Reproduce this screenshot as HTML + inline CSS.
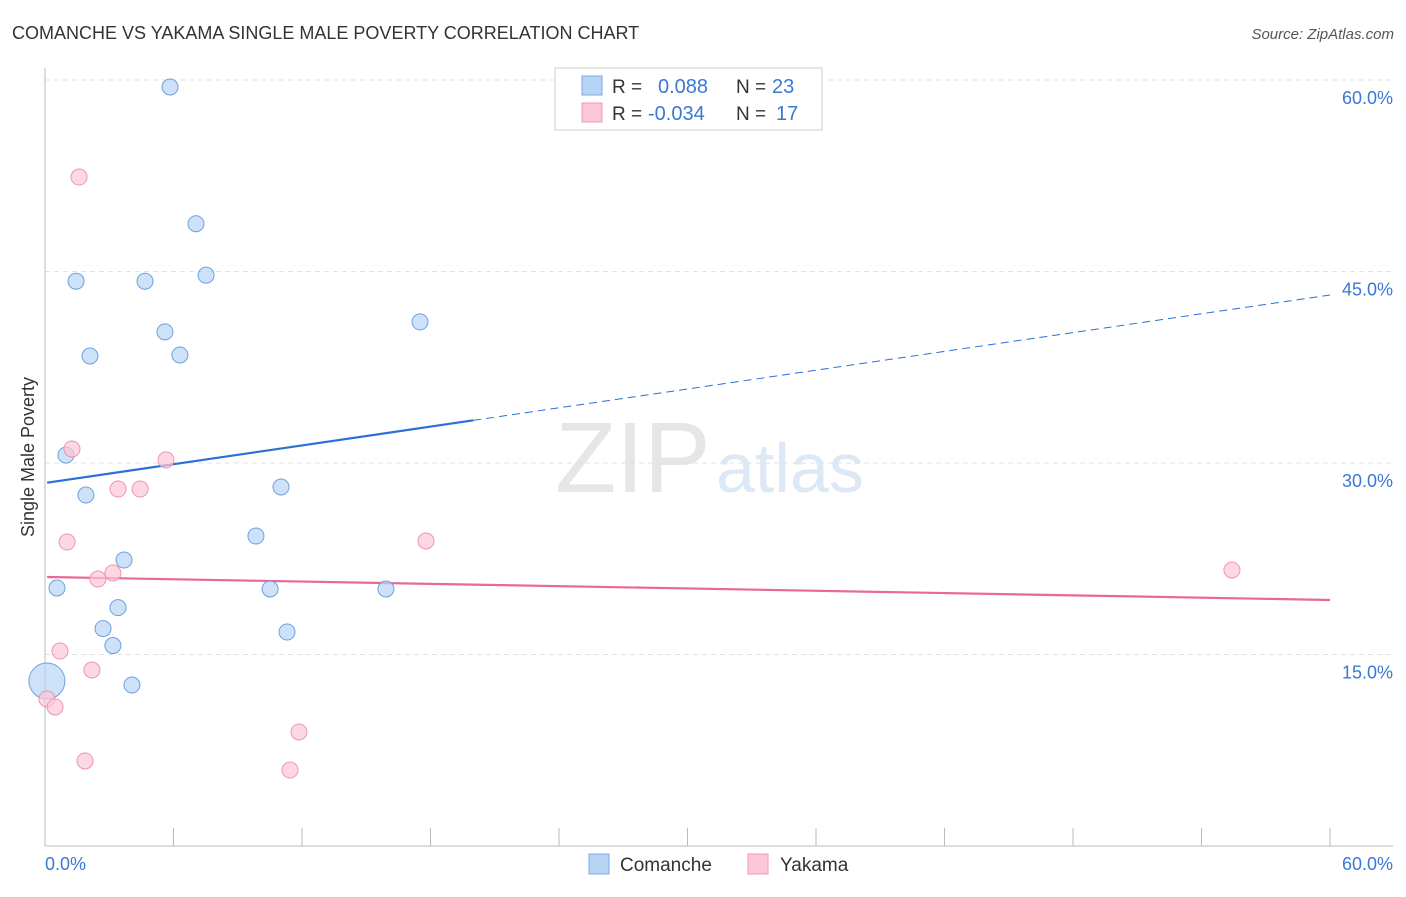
<!DOCTYPE html>
<html><head><meta charset="utf-8"><style>
body{margin:0;background:#fff;font-family:"Liberation Sans",sans-serif;}
svg text{font-family:"Liberation Sans",sans-serif;}
</style></head><body>
<svg id="chart" width="1406" height="892">
<text x="12" y="39" font-size="18" fill="#333">COMANCHE VS YAKAMA SINGLE MALE POVERTY CORRELATION CHART</text>
<text x="1394" y="39" font-size="15" fill="#555" font-style="italic" text-anchor="end">Source: ZipAtlas.com</text>
<text x="555" y="492" font-size="100" fill="#e6e6e6" font-family="Liberation Serif">ZIP</text>
<text x="716" y="492" font-size="70" fill="#dce8f6">atlas</text>
<text transform="translate(34,457) rotate(-90)" font-size="18" fill="#333" text-anchor="middle">Single Male Poverty</text>
<g id="grid"></g><g id="marks"></g>
<g>
<rect x="555" y="68" width="267" height="62" fill="#fff" stroke="#ccc"/>
<rect x="582" y="76" width="20" height="19" fill="#b8d4f5" stroke="#7aaae6"/>
<rect x="582" y="103" width="20" height="19" fill="#fcc8d7" stroke="#f09ab4"/>
<text x="612" y="93" font-size="19" fill="#333">R = </text><text x="658" y="93" font-size="20" fill="#3a78d4">0.088</text>
<text x="736" y="93" font-size="19" fill="#333">N = </text><text x="772" y="93" font-size="20" fill="#3a78d4">23</text>
<text x="612" y="120" font-size="19" fill="#333">R = </text><text x="648" y="120" font-size="20" fill="#3a78d4">-0.034</text>
<text x="736" y="120" font-size="19" fill="#333">N = </text><text x="776" y="120" font-size="20" fill="#3a78d4">17</text>
</g>
<g>
<rect x="589" y="854" width="20" height="20" fill="#b8d4f5" stroke="#7aaae6"/>
<text x="620" y="871" font-size="19" fill="#333">Comanche</text>
<rect x="748" y="854" width="20" height="20" fill="#fcc8d7" stroke="#f09ab4"/>
<text x="780" y="871" font-size="19" fill="#333">Yakama</text>
</g>
</svg>
<script>
const comancheX=[5.84,7.05,1.45,4.67,7.52,5.60,2.10,6.30,17.51,0.98,1.91,11.02,9.85,3.69,0.56,10.51,15.92,3.41,2.71,3.17,11.30,4.06,0.09];
const comancheY=[59.45,48.74,44.24,44.24,44.71,40.27,38.38,38.46,41.05,30.62,27.49,28.12,24.28,22.40,20.21,20.13,20.13,18.67,17.03,15.70,16.76,12.61,12.92];
const yakamaX=[1.59,1.26,5.65,3.41,4.44,1.03,17.79,2.47,3.17,55.42,0.70,2.19,0.09,0.47,1.87,11.86,11.44];
const yakamaY=[52.40,31.10,30.24,27.96,27.96,23.81,23.89,20.91,21.38,21.62,15.27,13.79,11.51,10.89,6.66,8.93,5.95];
const yTicks=[15,30,45,60];
const xTickLabels=["0.0%","60.0%"];
const comancheTrend=[28.43,43.16];
const yakamaTrend=[21.07,19.27];
const NS="http://www.w3.org/2000/svg";
const sx=v=>45+v*21.417, sy=v=>846-v*12.767;
function mk(p,t,a){const e=document.createElementNS(NS,t);for(const k in a)e.setAttribute(k,a[k]);p.appendChild(e);return e;}
const grid=document.getElementById('grid'),marks=document.getElementById('marks');
yTicks.forEach(t=>{const l=mk(grid,'line',{x1:45,x2:1393,y1:sy(t),y2:sy(t),stroke:'#e2e2e2','stroke-dasharray':'5,4'});


const tx=mk(grid,'text',{x:1393,y:sy(t)+24,'font-size':18,fill:'#3a78d4','text-anchor':'end'});tx.textContent=t.toFixed(1)+'%';

});
const ya=mk(grid,'line',{x1:45,x2:45,y1:68,y2:846,stroke:'#bbb'});


const xa=mk(grid,'line',{x1:45,x2:1393,y1:846,y2:846,stroke:'#bbb'});


for(let i=0;i<=10;i++){const t=mk(grid,'line',{x1:sx(i*6),x2:sx(i*6),y1:828,y2:846,stroke:'#bbb'});

}
[[0,'start'],[60,'end']].forEach((d,i)=>{const t=mk(grid,'text',{x:i?1393:45,y:870,'font-size':18,fill:'#3a78d4','text-anchor':d[1]});t.textContent=xTickLabels[i];

});
const cy=x=>comancheTrend[0]+(comancheTrend[1]-comancheTrend[0])*x/60;
const ct1=mk(marks,'line',{x1:sx(0.1),y1:sy(cy(0.1)),x2:sx(20),y2:sy(cy(20)),stroke:'#2b6fd6','stroke-width':2.2});


const ct2=mk(marks,'line',{x1:sx(20),y1:sy(cy(20)),x2:sx(60),y2:sy(cy(60)),stroke:'#2b6fd6','stroke-width':1,'stroke-dasharray':'8,5'});


const yt=mk(marks,'line',{x1:sx(0.1),y1:sy(yakamaTrend[0]),x2:sx(60),y2:sy(yakamaTrend[1]),stroke:'#e8689a','stroke-width':2.2});


comancheX.forEach((x,i)=>{const c=mk(marks,'circle',{cx:sx(x),cy:sy(comancheY[i]),r:i==22?18:8,fill:'rgba(184,212,245,0.7)',stroke:'#6fa0e0','stroke-width':1});

});
yakamaX.forEach((x,i)=>{const c=mk(marks,'circle',{cx:sx(x),cy:sy(yakamaY[i]),r:8,fill:'rgba(252,200,215,0.7)',stroke:'#ee94b2','stroke-width':1});

});
</script>
</body></html>
